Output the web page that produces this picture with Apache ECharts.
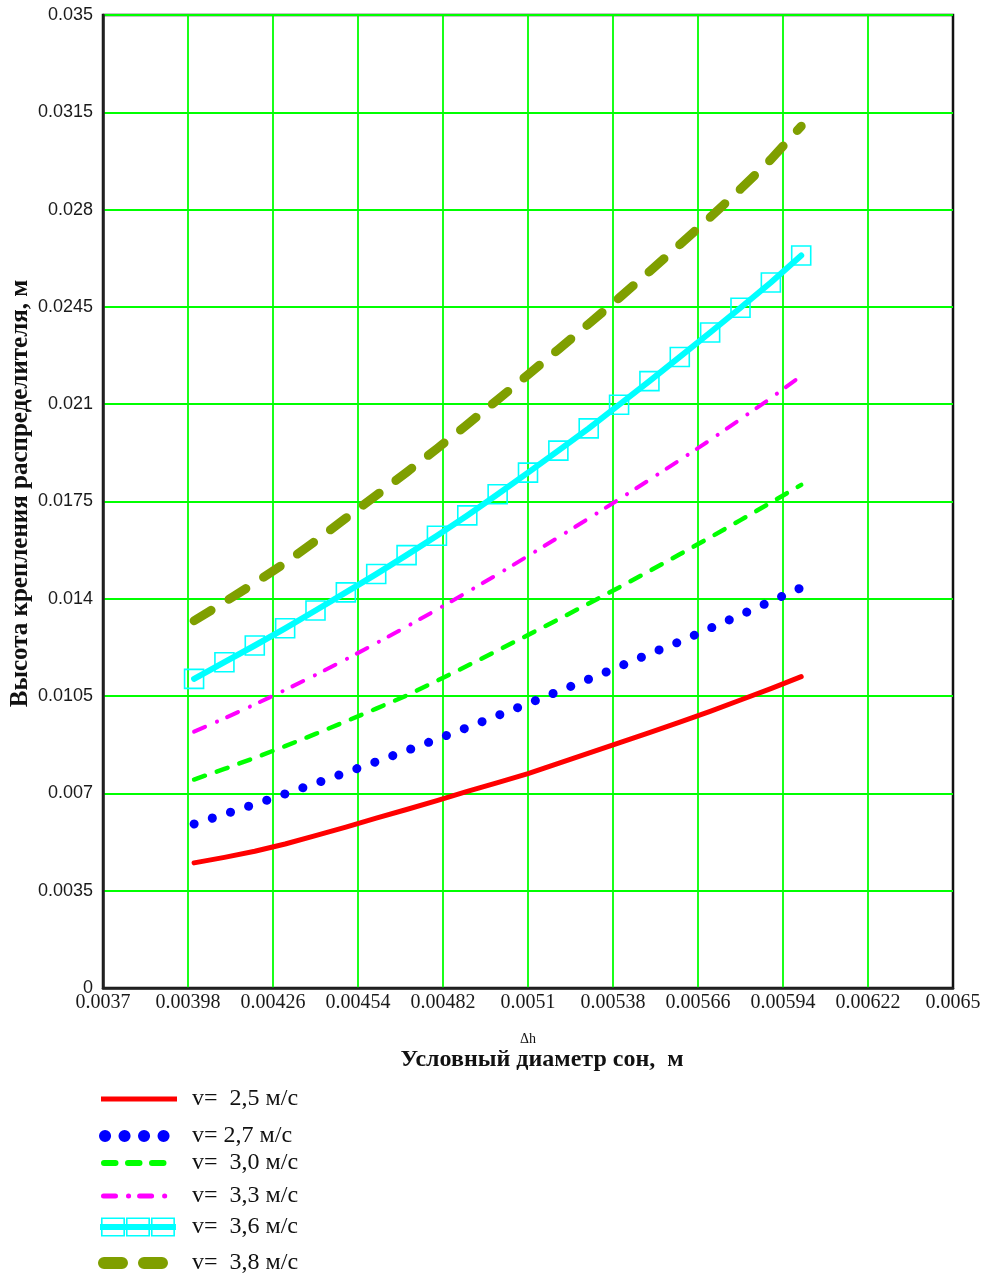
<!DOCTYPE html>
<html>
<head>
<meta charset="utf-8">
<script src="https://cdn.jsdelivr.net/npm/echarts@6/dist/echarts.min.js"></script>
<style>
html,body{margin:0;padding:0;background:#ffffff;}
#chart{width:989px;height:1279px;}
</style>
</head>
<body>
<div id="chart"></div>
<script>
// ---- data ----
const diameters = [0.0040,0.0041,0.0042,0.0043,0.0044,0.0045,0.0046,0.0047,0.0048,0.0049,0.0050,
                   0.0051,0.0052,0.0053,0.0054,0.0055,0.0056,0.0057,0.0058,0.0059,0.0060];
const h25 = [0.00450,0.00470,0.00492,0.00518,0.00548,0.00579,0.00611,0.00642,0.00674,0.00707,0.00739,
             0.00771,0.00808,0.00845,0.00882,0.00919,0.00956,0.00995,0.01036,0.01077,0.01120];
const h27 = [0.00590,0.00625,0.00661,0.00698,0.00736,0.00775,0.00814,0.00854,0.00895,0.00937,0.00980,
             0.01023,0.01067,0.01111,0.01156,0.01202,0.01246,0.01294,0.01342,0.01391,0.01440];
const h30 = [0.00750,0.00788,0.00828,0.00870,0.00914,0.00959,0.01005,0.01052,0.01105,0.01159,0.01214,
             0.01270,0.01326,0.01383,0.01441,0.01500,0.01560,0.01621,0.01683,0.01746,0.01810];
const h33 = [0.00922,0.00970,0.01020,0.01072,0.01126,0.01182,0.01240,0.01300,0.01361,0.01424,0.01488,
             0.01554,0.01621,0.01689,0.01758,0.01828,0.01899,0.01971,0.02046,0.02122,0.02202];
const h36 = [0.01112,0.01172,0.01232,0.01294,0.01358,0.01423,0.01489,0.01557,0.01627,0.01700,0.01776,
             0.01854,0.01933,0.02013,0.02098,0.02183,0.02270,0.02358,0.02447,0.02538,0.02635];
const h38 = [0.01321,0.01388,0.01457,0.01529,0.01608,0.01690,0.01772,0.01855,0.01940,0.02027,0.02116,
             0.02206,0.02297,0.02389,0.02482,0.02577,0.02674,0.02772,0.02874,0.02980,0.03100];
const seriesNames = ['v=  2,5 м/с','v= 2,7 м/с','v=  3,0 м/с','v=  3,3 м/с','v=  3,6 м/с','v=  3,8 м/с'];
const xMin = 0.0037, xMax = 0.0065, xStep = 0.00028;
const yMin = 0, yMax = 0.035, yStep = 0.0035;
const xTitle = 'Условный диаметр сон,  м';
const xTitleSymbol = 'Δh';
const yTitle = 'Высота крепления распределителя, м';

// ---- helpers ----
function pairs(ys){ return diameters.map((x,i)=>[x, ys[i]]); }

// legend icon for the cyan series: three hollow squares with a bar through them
function squaresIcon(){
  let p = '';
  const xs = [1, 26, 51], w = 24, t = 1.6;
  xs.forEach(x0=>{
    p += `M${x0} 0.5 L${x0+w} 0.5 L${x0+w} 19.5 L${x0} 19.5 Z `;
    p += `M${x0+t} ${0.5+t} L${x0+t} ${19.5-t} L${x0+w-t} ${19.5-t} L${x0+w-t} ${0.5+t} Z `;
  });
  p += 'M0 7 L76 7 L76 13 L0 13 Z M0 0 L0 0.01 M76 20 L76 20.01';
  return 'path://' + p;
}

const serif = '"Liberation Serif","Times New Roman",serif';
const sans = '"Liberation Sans",Arial,sans-serif';

const styles = [
  {color:'#ff0000', width:5, type:'solid', cap:'round'},
  {color:'#0000ff', width:9, type:[0.1,19], cap:'round'},
  {color:'#00ff00', width:4.5, type:[11.5,12.5], cap:'round'},
  {color:'#ff00ff', width:4, type:[12,13,0.1,11], cap:'round'},
  {color:'#00ffff', width:6, type:'solid', cap:'round'},
  {color:'#7f9f00', width:9, type:[20,21], cap:'round'}
];
const dataSets = [h25,h27,h30,h33,h36,h38];

const series = dataSets.map((ys,i)=>{
  const s = styles[i];
  const o = {
    type:'line', name: seriesNames[i], data: pairs(ys),
    symbol: 'none', smooth: false, silent: true, animation: false,
    lineStyle: {color:s.color, width:s.width, type:s.type, cap:s.cap, join:'round'},
    itemStyle: {color:s.color},
    z: 3 + i
  };
  if (i === 4) {
    o.symbol = 'rect'; o.symbolSize = 19; o.showSymbol = true;
    o.itemStyle = {color:'rgba(0,0,0,0)', borderColor:'#00ffff', borderWidth:1.6};
  }
  return o;
});

// legend rows (one legend per row to place them like the reference)
const legendRows = [
  {cy:1099, iconX:101, w:5,  itemWidth:76, lineStyle:{width:5, cap:'butt'}},
  {cy:1136, iconX:105, w:12, itemWidth:62, lineStyle:{width:12, type:[0.1,19.4], cap:'round'}},
  {cy:1163, iconX:104, w:6,  itemWidth:70, lineStyle:{width:6, type:[11.5,12.5], cap:'round'}},
  {cy:1196, iconX:103.5, w:5, itemWidth:72, lineStyle:{width:5, type:[12,13,0.1,11], cap:'round'}},
  {cy:1227, iconX:100, w:0,  itemWidth:76, icon:squaresIcon()},
  {cy:1263, iconX:104, w:12, itemWidth:60, lineStyle:{width:12, type:[18,22], cap:'round'}}
];
const legends = legendRows.map((r,i)=>{
  const textX = r.iconX + r.itemWidth + 5;
  const lg = {
    orient:'vertical', left:r.iconX - r.w/2, top:r.cy - 13, padding:0,
    itemWidth:r.itemWidth, itemHeight: r.icon ? 20 : 14,
    selectedMode:false,
    data:[ r.icon ? {name:seriesNames[i], icon:r.icon} : {name:seriesNames[i]} ],
    textStyle:{fontFamily:serif, fontSize:24, color:'#111', lineHeight:26, padding:[0,0,0,192 - textX]},
  };
  if (r.icon) {
    lg.itemStyle = {color:'#00ffff', borderWidth:0, opacity:1};
  } else {
    lg.itemStyle = {opacity:0};
    lg.lineStyle = r.lineStyle;
  }
  return lg;
});

const chart = echarts.init(document.getElementById('chart'), null, {renderer:'canvas'});
chart.setOption({
  backgroundColor:'#ffffff',
  animation:false,
  grid:{left:103, right:36, top:15, bottom:291, outerBoundsMode:'none', containLabel:false,
        show:true, borderColor:'#111', borderWidth:2.5, backgroundColor:'#fff'},
  legend: legends,
  xAxis:{
    type:'value', min:xMin, max:xMax, interval:xStep,
    axisLine:{show:true, lineStyle:{color:'#222', width:2.5}},
    axisTick:{show:false},
    axisLabel:{fontFamily:serif, fontSize:20, color:'#1a1a1a', margin:5, showMinLabel:true, showMaxLabel:true},
    splitLine:{show:true, showMinLine:false, showMaxLine:false, lineStyle:{color:'#00ff00', width:1.8}},
    name: '{s|' + xTitleSymbol + '}\n{b|' + xTitle + '}',
    nameLocation:'middle', nameGap:45, nameMoveOverlap:false,
    nameTextStyle:{
      rich:{
        s:{fontFamily:serif, fontSize:14, lineHeight:13, color:'#111', align:'center'},
        b:{fontFamily:serif, fontSize:24, fontWeight:'bold', lineHeight:28, color:'#111', padding:[0,0,0,28]}
      }
    }
  },
  yAxis:{
    type:'value', min:yMin, max:yMax, interval:yStep,
    axisLine:{show:true, lineStyle:{color:'#222', width:2.5}},
    axisTick:{show:false},
    axisLabel:{fontFamily:sans, fontSize:18, color:'#1a1a1a', margin:10},
    splitLine:{show:true, showMinLine:false, lineStyle:{color:'#00ff00', width:1.8}},
    name: yTitle, nameLocation:'middle', nameGap:61, nameMoveOverlap:false,
    nameTextStyle:{fontFamily:serif, fontSize:25, fontWeight:'bold', color:'#111',
                   backgroundColor:'#ffffff', padding:[0,0,9,16]}
  },
  series: series
});
</script>
</body>
</html>
